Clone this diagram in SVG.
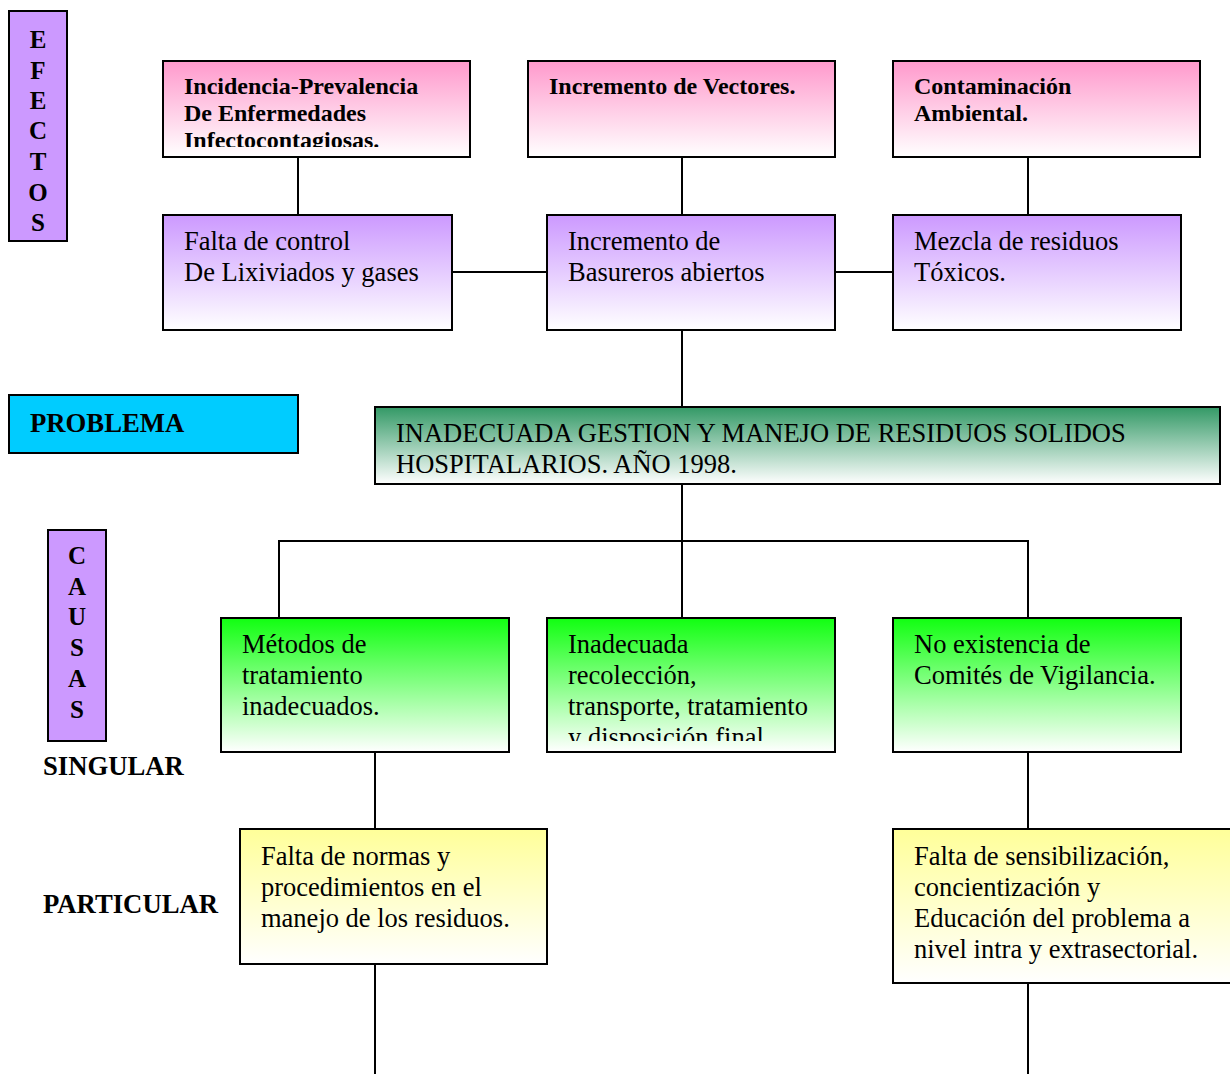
<svg xmlns="http://www.w3.org/2000/svg" width="1230" height="1074" viewBox="0 0 1230 1074">
<style>
.box{stroke:#000;stroke-width:2}
.t{font-family:"Liberation Serif","Times New Roman",serif;font-size:26.5px;fill:#000}
.b{font-family:"Liberation Serif","Times New Roman",serif;font-size:24px;font-weight:bold;fill:#000}
.lb{font-family:"Liberation Serif","Times New Roman",serif;font-size:26.7px;font-weight:bold;fill:#000}
.v{font-family:"Liberation Serif","Times New Roman",serif;font-size:25px;font-weight:bold;fill:#000;text-anchor:middle}
.ln{stroke:#000;stroke-width:2;fill:none}
</style>
<defs>
<linearGradient id="gPink" x1="0" y1="0" x2="0" y2="1"><stop offset="0" stop-color="#FF99CC"/><stop offset="1" stop-color="#FFFFFF"/></linearGradient>
<linearGradient id="gPurple" x1="0" y1="0" x2="0" y2="1"><stop offset="0" stop-color="#CC99FF"/><stop offset="1" stop-color="#FFFFFF"/></linearGradient>
<linearGradient id="gDark" x1="0" y1="0" x2="0" y2="1"><stop offset="0" stop-color="#339966"/><stop offset="1" stop-color="#FFFFFF"/></linearGradient>
<linearGradient id="gGreen" x1="0" y1="0" x2="0" y2="1"><stop offset="0" stop-color="#11FF11"/><stop offset="1" stop-color="#FFFFFF"/></linearGradient>
<linearGradient id="gYellow" x1="0" y1="0" x2="0" y2="1"><stop offset="0" stop-color="#FFFF99"/><stop offset="1" stop-color="#FFFFFF"/></linearGradient>
<clipPath id="cPink1"><rect x="163" y="61" width="307" height="86"/></clipPath>
<clipPath id="cGreen2"><rect x="547" y="618" width="288" height="123"/></clipPath>
</defs>

<g id="connectors">
<line class="ln" x1="298" y1="157" x2="298" y2="215"/>
<line class="ln" x1="682" y1="157" x2="682" y2="215"/>
<line class="ln" x1="1028" y1="157" x2="1028" y2="215"/>
<line class="ln" x1="452" y1="272" x2="547" y2="272"/>
<line class="ln" x1="835" y1="272" x2="893" y2="272"/>
<line class="ln" x1="682" y1="330" x2="682" y2="407"/>
<line class="ln" x1="682" y1="484" x2="682" y2="618"/>
<polyline class="ln" points="279,618 279,541 1028,541 1028,618"/>
<line class="ln" x1="375" y1="752" x2="375" y2="829"/>
<line class="ln" x1="375" y1="964" x2="375" y2="1074"/>
<line class="ln" x1="1028" y1="752" x2="1028" y2="829"/>
<line class="ln" x1="1028" y1="983" x2="1028" y2="1074"/>
</g>

<g id="efectos">
<rect class="box" x="9" y="11" width="58" height="230" fill="#CC99FF"/>
<text class="v" x="38" y="48">E</text>
<text class="v" x="38" y="79">F</text>
<text class="v" x="38" y="109">E</text>
<text class="v" x="38" y="139">C</text>
<text class="v" x="38" y="170">T</text>
<text class="v" x="38" y="201">O</text>
<text class="v" x="38" y="231">S</text>
</g>

<g id="efecto1">
<rect class="box" x="163" y="61" width="307" height="96" fill="url(#gPink)"/>
<g clip-path="url(#cPink1)">
<text class="b" x="184" y="94">Incidencia-Prevalencia</text>
<text class="b" x="184" y="121">De Enfermedades</text>
<text class="b" x="184" y="148">Infectocontagiosas.</text>
</g>
</g>
<g id="efecto2">
<rect class="box" x="528" y="61" width="307" height="96" fill="url(#gPink)"/>
<text class="b" x="549" y="94">Incremento de Vectores.</text>
</g>
<g id="efecto3">
<rect class="box" x="893" y="61" width="307" height="96" fill="url(#gPink)"/>
<text class="b" x="914" y="94">Contaminación</text>
<text class="b" x="914" y="121">Ambiental.</text>
</g>

<g id="medio1">
<rect class="box" x="163" y="215" width="289" height="115" fill="url(#gPurple)"/>
<text class="t" x="184" y="250">Falta de control</text>
<text class="t" x="184" y="281">De Lixiviados y gases</text>
</g>
<g id="medio2">
<rect class="box" x="547" y="215" width="288" height="115" fill="url(#gPurple)"/>
<text class="t" x="568" y="250">Incremento de</text>
<text class="t" x="568" y="281">Basureros abiertos</text>
</g>
<g id="medio3">
<rect class="box" x="893" y="215" width="288" height="115" fill="url(#gPurple)"/>
<text class="t" x="914" y="250">Mezcla de residuos</text>
<text class="t" x="914" y="281">Tóxicos.</text>
</g>

<g id="problema-label">
<rect class="box" x="9" y="395" width="289" height="58" fill="#00CCFF"/>
<text class="lb" x="30" y="432">PROBLEMA</text>
</g>

<g id="problema">
<rect class="box" x="375" y="407" width="845" height="77" fill="url(#gDark)"/>
<text class="t" x="396" y="442">INADECUADA GESTION Y MANEJO DE RESIDUOS SOLIDOS</text>
<text class="t" x="396" y="473">HOSPITALARIOS. AÑO 1998.</text>
</g>

<g id="causas">
<rect class="box" x="48" y="530" width="58" height="211" fill="#CC99FF"/>
<text class="v" x="77" y="564">C</text>
<text class="v" x="77" y="595">A</text>
<text class="v" x="77" y="625">U</text>
<text class="v" x="77" y="656">S</text>
<text class="v" x="77" y="687">A</text>
<text class="v" x="77" y="718">S</text>
</g>

<g id="singular-label"><text class="lb" x="43" y="775">SINGULAR</text></g>
<g id="particular-label"><text class="lb" x="43" y="913">PARTICULAR</text></g>

<g id="causa1">
<rect class="box" x="221" y="618" width="288" height="134" fill="url(#gGreen)"/>
<text class="t" x="242" y="653">Métodos de</text>
<text class="t" x="242" y="684">tratamiento</text>
<text class="t" x="242" y="715">inadecuados.</text>
</g>
<g id="causa2">
<rect class="box" x="547" y="618" width="288" height="134" fill="url(#gGreen)"/>
<g clip-path="url(#cGreen2)">
<text class="t" x="568" y="653">Inadecuada</text>
<text class="t" x="568" y="684">recolección,</text>
<text class="t" x="568" y="715">transporte, tratamiento</text>
<text class="t" x="568" y="746">y disposición final</text>
</g>
</g>
<g id="causa3">
<rect class="box" x="893" y="618" width="288" height="134" fill="url(#gGreen)"/>
<text class="t" x="914" y="653">No existencia de</text>
<text class="t" x="914" y="684">Comités de Vigilancia.</text>
</g>

<g id="particular1">
<rect class="box" x="240" y="829" width="307" height="135" fill="url(#gYellow)"/>
<text class="t" x="261" y="865">Falta de normas y</text>
<text class="t" x="261" y="896">procedimientos en el</text>
<text class="t" x="261" y="927">manejo de los residuos.</text>
</g>
<g id="particular2">
<rect class="box" x="893" y="829" width="345" height="154" fill="url(#gYellow)"/>
<text class="t" x="914" y="865">Falta de sensibilización,</text>
<text class="t" x="914" y="896">concientización y</text>
<text class="t" x="914" y="927">Educación del problema a</text>
<text class="t" x="914" y="958">nivel intra y extrasectorial.</text>
</g>
</svg>
